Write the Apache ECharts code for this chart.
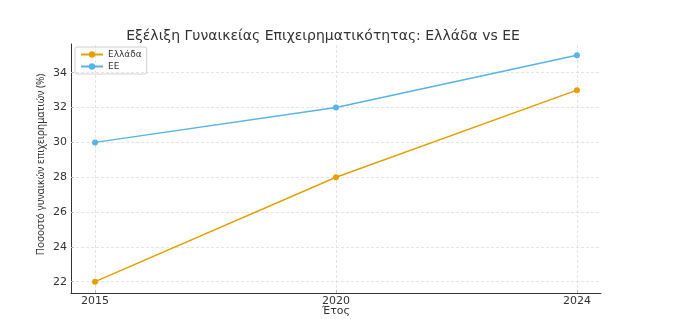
<!DOCTYPE html>
<html><head><meta charset="utf-8">
<script src="https://cdn.jsdelivr.net/npm/echarts@6/dist/echarts.min.js"></script>
<style>html,body{margin:0;padding:0;background:#fff}#c{width:675px;height:319px}</style>
</head><body><div id="c"></div>
<script>
const years = ['2015', '2020', '2024'];
const greece = [22, 28, 33];
const eu = [30, 32, 35];
const yTicks = [22, 24, 26, 28, 30, 32, 34];
const seriesNames = ['Ελλάδα', 'ΕΕ'];

const xIdx = years.map((_, i) => i);
const font = 'DejaVu Sans';
const chart = echarts.init(document.getElementById('c'), null, {renderer: 'canvas'});
const gridLine = {show: true, lineStyle: {color: '#dedede', type: [3, 2], width: 0.8}};
chart.setOption({
  animation: false,
  backgroundColor: '#fff',
  title: {text: 'Εξέλιξη Γυναικείας Επιχειρηματικότητας: Ελλάδα vs ΕΕ', left: 318, textAlign: 'center', top: 24,
    textStyle: {fontFamily: font, fontSize: 14, fontWeight: 'normal', color: '#333'}},
  legend: {orient: 'vertical', left: 75, top: 47, data: seriesNames, itemWidth: 22, itemHeight: 8, itemGap: 3,
    padding: [3, 5, 3, 5], borderColor: '#d0d0d0', borderWidth: 1, borderRadius: 2,
    textStyle: {fontFamily: font, fontSize: 9, color: '#333'}},
  grid: {left: 71, right: 74, top: 44, bottom: 26, containLabel: false, outerBoundsMode: 'none'},
  xAxis: {type: 'value', min: -0.1, max: 2.1, name: 'Έτος', nameLocation: 'middle', nameGap: 13, nameMoveOverlap: false,
    nameTextStyle: {fontFamily: font, fontSize: 11, color: '#333'},
    axisLine: {show: true, onZero: false, lineStyle: {color: '#333', width: 1}},
    axisTick: {show: true, inside: true, length: 3, customValues: xIdx, lineStyle: {color: '#333'}},
    axisLabel: {customValues: xIdx, formatter: v => years[Math.round(v)], fontFamily: font, fontSize: 11, color: '#333', margin: 3},
    splitLine: {show: false}},
  yAxis: {type: 'value', min: 21.35, max: 35.65, name: 'Ποσοστό γυναικών επιχειρηματιών (%)', nameLocation: 'middle', nameGap: 25, nameMoveOverlap: false,
    nameTextStyle: {fontFamily: 'Noto Sans', fontSize: 10, color: '#333', padding: [0, 0, 0, 8]},
    axisLine: {show: true, onZero: false, lineStyle: {color: '#333', width: 1}},
    axisTick: {show: true, inside: true, length: 3, customValues: yTicks, lineStyle: {color: '#333'}},
    axisLabel: {customValues: yTicks, fontFamily: font, fontSize: 11, color: '#333', margin: 4},
    splitLine: {show: false}},
  series: [
    {name: seriesNames[0], type: 'line', data: xIdx.map(i => [i, greece[i]]), color: '#E69F00',
      symbol: 'circle', symbolSize: 6, lineStyle: {width: 1.5}, z: 3,
      markLine: {silent: true, symbol: 'none', label: {show: false}, lineStyle: gridLine.lineStyle, animation: false, z: 1,
        data: xIdx.map(i => ({xAxis: i})).concat(yTicks.map(v => ({yAxis: v})))}},
    {name: seriesNames[1], type: 'line', data: xIdx.map(i => [i, eu[i]]), color: '#56B4E9',
      symbol: 'circle', symbolSize: 6, lineStyle: {width: 1.5}, z: 3}
  ]
});
</script></body></html>
